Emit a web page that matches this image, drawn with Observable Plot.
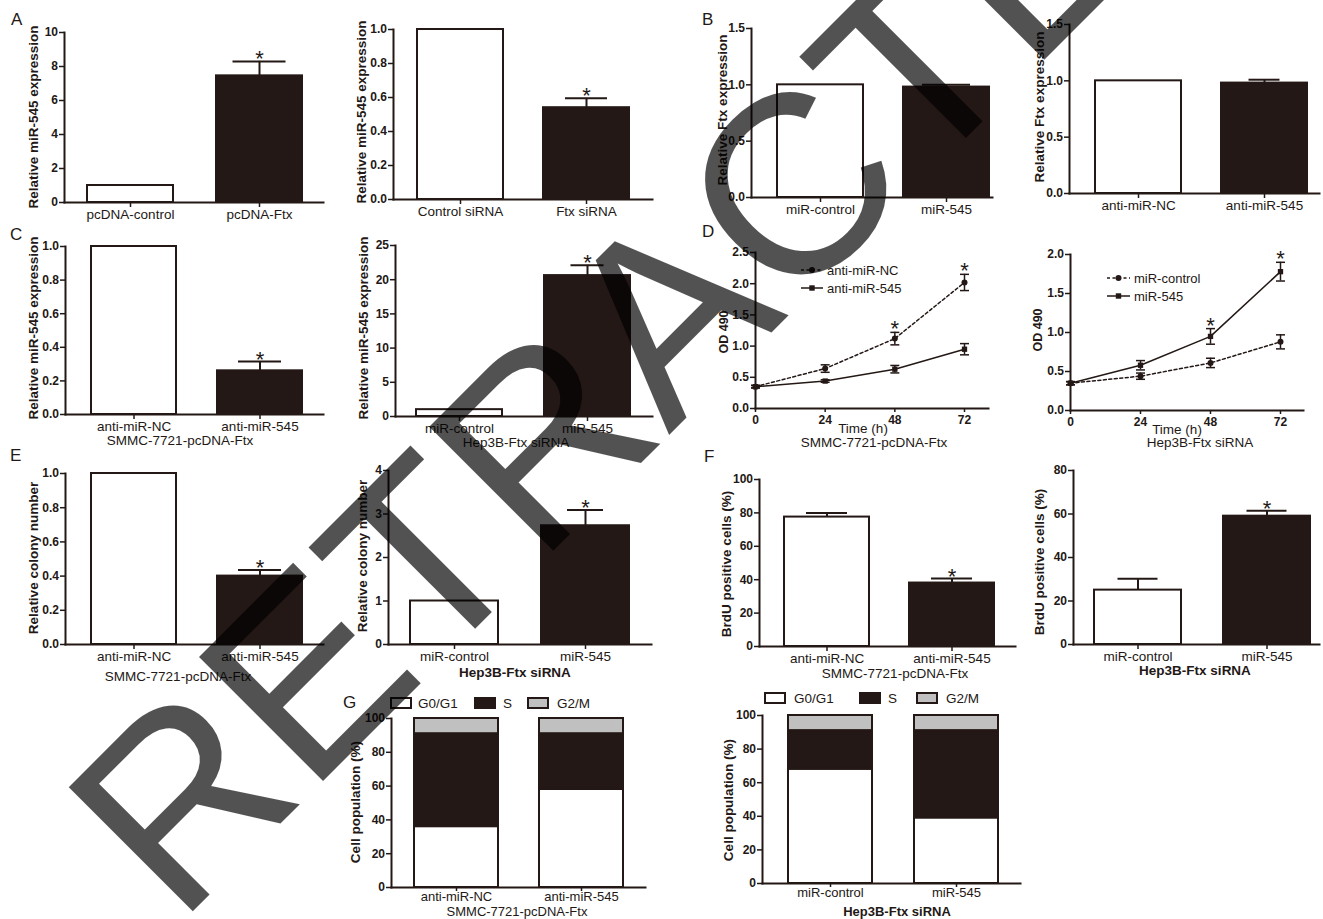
<!DOCTYPE html>
<html><head><meta charset="utf-8">
<script src="https://cdn.jsdelivr.net/npm/d3@7"></script>
<script src="https://cdn.jsdelivr.net/npm/@observablehq/plot@0.6"></script>
<style>
html,body{margin:0;padding:0;background:#fff;}
#fig{position:relative;width:1323px;height:919px;overflow:hidden;background:#fff;}
#fig > svg{position:absolute;left:0;top:0;}
</style></head>
<body><div id="fig"></div>
<script>
// ================= DATA =================
const significant = [false, true];
const notSignificant = [false, false];

const a1Groups = ["pcDNA-control", "pcDNA-Ftx"];
const a1Values = [1.0, 7.45];
const a1Errors = [0, 0.85];

const a2Groups = ["Control siRNA", "Ftx siRNA"];
const a2Values = [1.0, 0.54];
const a2Errors = [0, 0.055];

const b1Groups = ["miR-control", "miR-545"];
const b1Values = [1.0, 0.98];
const b1Errors = [0, 0.02];

const b2Groups = ["anti-miR-NC", "anti-miR-545"];
const b2Values = [1.0, 0.98];
const b2Errors = [0, 0.03];

const c1Groups = ["anti-miR-NC", "anti-miR-545"];
const c1Values = [1.0, 0.26];
const c1Errors = [0, 0.055];

const c2Groups = ["miR-control", "miR-545"];
const c2Values = [1.0, 20.6];
const c2Errors = [0, 1.5];

const e1Groups = ["anti-miR-NC", "anti-miR-545"];
const e1Values = [1.0, 0.40];
const e1Errors = [0, 0.035];

const e2Groups = ["miR-control", "miR-545"];
const e2Values = [1.0, 2.73];
const e2Errors = [0, 0.36];

const f1Groups = ["anti-miR-NC", "anti-miR-545"];
const f1Values = [77.5, 38];
const f1Errors = [2.5, 2.7];

const f2Groups = ["miR-control", "miR-545"];
const f2Values = [25, 59];
const f2Errors = [5.2, 2.5];

const timeHours = [0, 24, 48, 72];
const d1NCValues = [0.35, 0.64, 1.12, 2.02];
const d1NCErrors = [0.02, 0.06, 0.10, 0.13];
const d1AntiValues = [0.35, 0.44, 0.63, 0.95];
const d1AntiErrors = [0.02, 0.02, 0.06, 0.09];
const d2CtrlValues = [0.35, 0.44, 0.61, 0.88];
const d2CtrlErrors = [0.02, 0.04, 0.06, 0.09];
const d2MirValues = [0.35, 0.58, 0.95, 1.78];
const d2MirErrors = [0.02, 0.06, 0.10, 0.12];
const timeStars = [false, false, true, true];
const noStars = [false, false, false, false];

const phases = ["G0/G1", "S", "G2/M"];
const g1Groups = ["anti-miR-NC", "anti-miR-545"];
const g1G0G1 = [36, 58];
const g1S = [55, 33];
const g1G2M = [9, 9];
const g2Groups = ["miR-control", "miR-545"];
const g2G0G1 = [68, 39];
const g2S = [23, 52];
const g2G2M = [9, 9];

// tick values
const ticks0to10 = [0, 2, 4, 6, 8, 10];
const ticksUnit = [0, 0.2, 0.4, 0.6, 0.8, 1.0];
const ticksFtx = [0, 0.5, 1.0, 1.5];
const ticks0to25 = [0, 5, 10, 15, 20, 25];
const ticksOD1 = [0, 0.5, 1.0, 1.5, 2.0, 2.5];
const ticksOD2 = [0, 0.5, 1.0, 1.5, 2.0];
const ticks0to4 = [0, 1, 2, 3, 4];
const ticks0to100 = [0, 20, 40, 60, 80, 100];
const ticks0to80 = [0, 20, 40, 60, 80];

// ================= STYLE / LAYOUT =================
const INK = "#231815";
const GRAY = "#c0c0c0";
const FONT = '"Liberation Sans", Arial, Helvetica, sans-serif';
const W = 1323, H = 919;
const fig = document.getElementById("fig");
const f1d = d3.format(".1f"), fint = d3.format("d");

function baseStyle() {
  return {background: "transparent", overflow: "visible", fontFamily: FONT, color: INK};
}
function frameMarks() {
  return [
    Plot.frame({anchor: "left", stroke: INK, strokeWidth: 2}),
    Plot.frame({anchor: "bottom", stroke: INK, strokeWidth: 2})
  ];
}

function barPanel(groups, values, errors, stars, yMax, ticks, fmt, L) {
  const rows = groups.map((g, i) => ({g, v: values[i], e: errors[i], star: stars[i], i}));
  const span = L.barR - L.barL;
  const pad = (span - 2 * L.barW) / (span - L.barW);
  const inset = (L.barW - L.cap) / 2;
  const withErr = rows.filter(d => d.e > 0);
  return Plot.plot({
    width: W, height: H,
    marginLeft: L.ax, marginRight: W - L.axEnd, marginTop: L.yTop, marginBottom: H - L.y0,
    style: baseStyle(),
    x: {type: "band", domain: groups, range: [L.barL, L.barR], paddingInner: pad, paddingOuter: 0},
    y: {domain: [0, yMax]},
    marks: [
      Plot.barY(rows.filter(d => d.i === 0), {x: "g", y: "v", fill: "white", stroke: INK, strokeWidth: 2}),
      Plot.barY(rows.filter(d => d.i === 1), {x: "g", y: "v", fill: INK, stroke: INK, strokeWidth: 2}),
      Plot.ruleX(withErr, {x: "g", y1: "v", y2: d => d.v + d.e, stroke: INK, strokeWidth: 2}),
      Plot.tickY(withErr, {x: "g", y: d => d.v + d.e, stroke: INK, strokeWidth: 2, insetLeft: inset, insetRight: inset}),
      Plot.text(rows.filter(d => d.star), {x: "g", y: d => d.v + d.e, text: () => "*", dy: -2, fontSize: 22, fill: INK}),
      Plot.axisY({ticks, tickFormat: fmt, tickSize: 5, tickPadding: 1.5, fontSize: 12, fontWeight: "bold", label: null, strokeWidth: 1.5}),
      Plot.axisX({tickSize: 5, tickPadding: 2, fontSize: 13.5, label: null, strokeWidth: 1.5}),
      ...frameMarks()
    ]
  });
}

const capSymbol = {draw(ctx, size) { const r = Math.sqrt(size / Math.PI); ctx.moveTo(-r, 0); ctx.lineTo(r, 0); }};

function linePanel(series, yMax, ticks, L) {
  const rows = [];
  series.forEach(s => timeHours.forEach((h, i) => rows.push({h, v: s.values[i], e: s.errors[i], dashed: s.dashed, star: s.stars[i]})));
  const dashed = rows.filter(d => d.dashed), solid = rows.filter(d => !d.dashed);
  return Plot.plot({
    width: W, height: H,
    marginLeft: L.ax, marginRight: W - L.axEnd, marginTop: L.yTop, marginBottom: H - L.y0,
    style: baseStyle(),
    x: {domain: [0, 72], range: [L.ax, L.x72]},
    y: {domain: [0, yMax]},
    marks: [
      Plot.line(dashed, {x: "h", y: "v", stroke: INK, strokeWidth: 1.5, strokeDasharray: "3,2.5"}),
      Plot.line(solid, {x: "h", y: "v", stroke: INK, strokeWidth: 1.5}),
      Plot.ruleX(rows, {x: "h", y1: d => d.v - d.e, y2: d => d.v + d.e, stroke: INK, strokeWidth: 1.5}),
      Plot.dot(rows, {x: "h", y: d => d.v + d.e, symbol: capSymbol, r: 4.5, stroke: INK, strokeWidth: 1.5, fill: "none"}),
      Plot.dot(rows, {x: "h", y: d => d.v - d.e, symbol: capSymbol, r: 4.5, stroke: INK, strokeWidth: 1.5, fill: "none"}),
      Plot.dot(dashed, {x: "h", y: "v", r: 3, fill: INK, stroke: "none"}),
      Plot.dot(solid, {x: "h", y: "v", symbol: "square", r: 3, fill: INK, stroke: "none"}),
      Plot.text(rows.filter(d => d.star), {x: "h", y: d => d.v + d.e, text: () => "*", dy: -3, fontSize: 22, fill: INK}),
      Plot.axisY({ticks, tickFormat: f1d, tickSize: 5, tickPadding: 1.5, fontSize: 12, fontWeight: "bold", label: null, strokeWidth: 1.5}),
      Plot.axisX({ticks: timeHours, tickFormat: fint, tickSize: 4, tickPadding: 3, fontSize: 12, fontWeight: "bold", label: null, strokeWidth: 1.5}),
      ...frameMarks()
    ]
  });
}

function stackPanel(groups, g0, s, g2, L) {
  const rows = [];
  groups.forEach((g, i) => {
    rows.push({g, phase: phases[0], v: g0[i]});
    rows.push({g, phase: phases[1], v: s[i]});
    rows.push({g, phase: phases[2], v: g2[i]});
  });
  const span = L.barR - L.barL;
  const pad = (span - 2 * L.barW) / (span - L.barW);
  return Plot.plot({
    width: W, height: H,
    marginLeft: L.ax, marginRight: W - L.axEnd, marginTop: L.yTop, marginBottom: H - L.y0,
    style: baseStyle(),
    x: {type: "band", domain: groups, range: [L.barL, L.barR], paddingInner: pad, paddingOuter: 0},
    y: {domain: [0, 100]},
    color: {domain: phases, range: ["white", INK, GRAY]},
    marks: [
      Plot.barY(rows, {x: "g", y: "v", fill: "phase", stroke: INK, strokeWidth: 2}),
      Plot.axisY({ticks: ticks0to100, tickFormat: fint, tickSize: 5, tickPadding: 1.5, fontSize: 12, fontWeight: "bold", label: null, strokeWidth: 1.5}),
      Plot.axisX({tickSize: 4, tickPadding: 0, fontSize: 13, label: null, strokeWidth: 1.5}),
      ...frameMarks()
    ]
  });
}

const L = {
  a1: {ax: 64, axEnd: 323, yTop: 32, y0: 202, barL: 87, barR: 302, barW: 86, cap: 53},
  a2: {ax: 393, axEnd: 652, yTop: 29, y0: 199, barL: 417, barR: 629, barW: 86, cap: 42},
  b1: {ax: 751, axEnd: 992, yTop: 28, y0: 197, barL: 777, barR: 989, barW: 86, cap: 48},
  b2: {ax: 1069, axEnd: 1319, yTop: 24, y0: 193, barL: 1095, barR: 1307, barW: 86, cap: 31},
  c1: {ax: 65, axEnd: 323, yTop: 246, y0: 414, barL: 90, barR: 303, barW: 86, cap: 44},
  c2: {ax: 395, axEnd: 652, yTop: 245, y0: 416, barL: 416, barR: 630, barW: 86, cap: 33},
  d1: {ax: 755, axEnd: 988, yTop: 252, y0: 408, x72: 964},
  d2: {ax: 1070, axEnd: 1303, yTop: 254, y0: 410, x72: 1280},
  e1: {ax: 65, axEnd: 323, yTop: 473, y0: 644, barL: 90, barR: 303, barW: 86, cap: 44},
  e2: {ax: 388, axEnd: 651, yTop: 470, y0: 644, barL: 410, barR: 629, barW: 88, cap: 36},
  f1: {ax: 759, axEnd: 1015, yTop: 479, y0: 646, barL: 784, barR: 994, barW: 85, cap: 41},
  f2: {ax: 1073, axEnd: 1319, yTop: 470, y0: 644, barL: 1094, barR: 1310, barW: 87, cap: 40},
  g1: {ax: 391, axEnd: 645, yTop: 718, y0: 887, barL: 414, barR: 623, barW: 84},
  g2: {ax: 762, axEnd: 1020, yTop: 715, y0: 883, barL: 788, barR: 998, barW: 84}
};

const panels = [
  barPanel(a1Groups, a1Values, a1Errors, significant, 10, ticks0to10, fint, L.a1),
  barPanel(a2Groups, a2Values, a2Errors, significant, 1.0, ticksUnit, f1d, L.a2),
  barPanel(b1Groups, b1Values, b1Errors, notSignificant, 1.5, ticksFtx, f1d, L.b1),
  barPanel(b2Groups, b2Values, b2Errors, notSignificant, 1.5, ticksFtx, f1d, L.b2),
  barPanel(c1Groups, c1Values, c1Errors, significant, 1.0, ticksUnit, f1d, L.c1),
  barPanel(c2Groups, c2Values, c2Errors, significant, 25, ticks0to25, fint, L.c2),
  linePanel([
    {values: d1NCValues, errors: d1NCErrors, dashed: true, stars: timeStars},
    {values: d1AntiValues, errors: d1AntiErrors, dashed: false, stars: noStars}
  ], 2.5, ticksOD1, L.d1),
  linePanel([
    {values: d2CtrlValues, errors: d2CtrlErrors, dashed: true, stars: noStars},
    {values: d2MirValues, errors: d2MirErrors, dashed: false, stars: timeStars}
  ], 2.0, ticksOD2, L.d2),
  barPanel(e1Groups, e1Values, e1Errors, significant, 1.0, ticksUnit, f1d, L.e1),
  barPanel(e2Groups, e2Values, e2Errors, significant, 4, ticks0to4, fint, L.e2),
  barPanel(f1Groups, f1Values, f1Errors, significant, 100, ticks0to100, fint, L.f1),
  barPanel(f2Groups, f2Values, f2Errors, significant, 80, ticks0to80, fint, L.f2),
  stackPanel(g1Groups, g1G0G1, g1S, g1G2M, L.g1),
  stackPanel(g2Groups, g2G0G1, g2S, g2G2M, L.g2)
];
panels.forEach(p => fig.appendChild(p));

// ================= ANNOTATIONS (titles, legends) =================
const ann = d3.create("svg").attr("width", W).attr("height", H)
  .style("font-family", FONT).style("overflow", "visible");

const letters = [["A", 11, 25], ["B", 702, 25], ["C", 10, 240], ["D", 702, 237], ["E", 10, 461], ["F", 704, 462], ["G", 343, 708]];
letters.forEach(([t, x, y]) => ann.append("text").attr("x", x).attr("y", y).attr("font-size", 17).attr("fill", INK).text(t));

const yTitles = [
  [33, 117, "Relative miR-545 expression", 13.5],
  [361, 112, "Relative miR-545 expression", 13.5],
  [722, 110, "Relative Ftx expression", 13.5],
  [1039, 107, "Relative Ftx expression", 13.5],
  [33, 328, "Relative miR-545 expression", 13.5],
  [363, 328, "Relative miR-545 expression", 13.5],
  [724, 332, "OD 490", 12.5],
  [1038, 330, "OD 490", 12.5],
  [33, 558, "Relative colony number", 13.5],
  [362, 556, "Relative colony number", 13.5],
  [726, 564, "BrdU positive cells (%)", 13.5],
  [1039, 562, "BrdU positive cells (%)", 13.5],
  [355, 802, "Cell population (%)", 13.5],
  [728, 800, "Cell population (%)", 13.5]
];
yTitles.forEach(([x, y, t, fs]) => ann.append("text")
  .attr("transform", `translate(${x},${y}) rotate(-90)`)
  .attr("text-anchor", "middle").attr("dy", "0.35em")
  .attr("font-size", fs).attr("font-weight", "bold").attr("fill", INK).text(t));

const subtitles = [
  [180, 445, "SMMC-7721-pcDNA-Ftx", "normal", 13.5],
  [516, 447, "Hep3B-Ftx siRNA", "normal", 13.5],
  [874, 447, "SMMC-7721-pcDNA-Ftx", "normal", 13.5],
  [1200, 447, "Hep3B-Ftx siRNA", "normal", 13.5],
  [178, 681, "SMMC-7721-pcDNA-Ftx", "normal", 13.5],
  [515, 677, "Hep3B-Ftx siRNA", "bold", 13.5],
  [895, 678, "SMMC-7721-pcDNA-Ftx", "normal", 13.5],
  [1195, 675, "Hep3B-Ftx siRNA", "bold", 13.5],
  [517, 916, "SMMC-7721-pcDNA-Ftx", "normal", 13],
  [897, 916, "Hep3B-Ftx siRNA", "bold", 13],
  [863, 433, "Time (h)", "normal", 13.5],
  [1177, 434, "Time (h)", "normal", 13.5]
];
subtitles.forEach(([x, y, t, fw, fs]) => ann.append("text").attr("x", x).attr("y", y)
  .attr("text-anchor", "middle").attr("font-size", fs).attr("font-weight", fw).attr("fill", INK).text(t));

// D legends
const lineLegends = [
  [801, 823, 827, 270, "anti-miR-NC", true],
  [801, 823, 827, 288, "anti-miR-545", false],
  [1107, 1130, 1134, 278, "miR-control", true],
  [1107, 1130, 1134, 296, "miR-545", false]
];
lineLegends.forEach(([x1, x2, tx, y, t, dashed]) => {
  ann.append("line").attr("x1", x1).attr("x2", x2).attr("y1", y).attr("y2", y)
    .attr("stroke", INK).attr("stroke-width", 1.5).attr("stroke-dasharray", dashed ? "3,2.5" : null);
  const cx = (x1 + x2) / 2;
  if (dashed) ann.append("circle").attr("cx", cx).attr("cy", y).attr("r", 3).attr("fill", INK);
  else ann.append("rect").attr("x", cx - 2.7).attr("y", y - 2.7).attr("width", 5.4).attr("height", 5.4).attr("fill", INK);
  ann.append("text").attr("x", tx).attr("y", y).attr("dy", "0.35em").attr("font-size", 13).attr("fill", INK).text(t);
});

// G legends
const boxLegends = [
  [[391, 475, 528], [418, 503, 557], 703],
  [[765, 860, 917], [794, 888, 946], 698]
];
const boxFills = ["white", INK, GRAY];
boxLegends.forEach(([bx, tx, y]) => {
  phases.forEach((p, i) => {
    ann.append("rect").attr("x", bx[i]).attr("y", y - 5).attr("width", 20).attr("height", 10)
      .attr("fill", boxFills[i]).attr("stroke", INK).attr("stroke-width", 2);
    ann.append("text").attr("x", tx[i]).attr("y", y).attr("dy", "0.35em").attr("font-size", 13.5).attr("fill", INK).text(p);
  });
});
fig.appendChild(ann.node());

// ================= WATERMARK =================
const wm = d3.create("svg").attr("width", W).attr("height", H).style("overflow", "hidden");
wm.append("text")
  .attr("transform", "translate(178,926) rotate(-45)")
  .attr("font-family", FONT).attr("font-size", 255)
  .attr("fill", "#000").attr("fill-opacity", 0.68)
  .text("RETRACTED");
fig.appendChild(wm.node());
</script>
</body></html>
